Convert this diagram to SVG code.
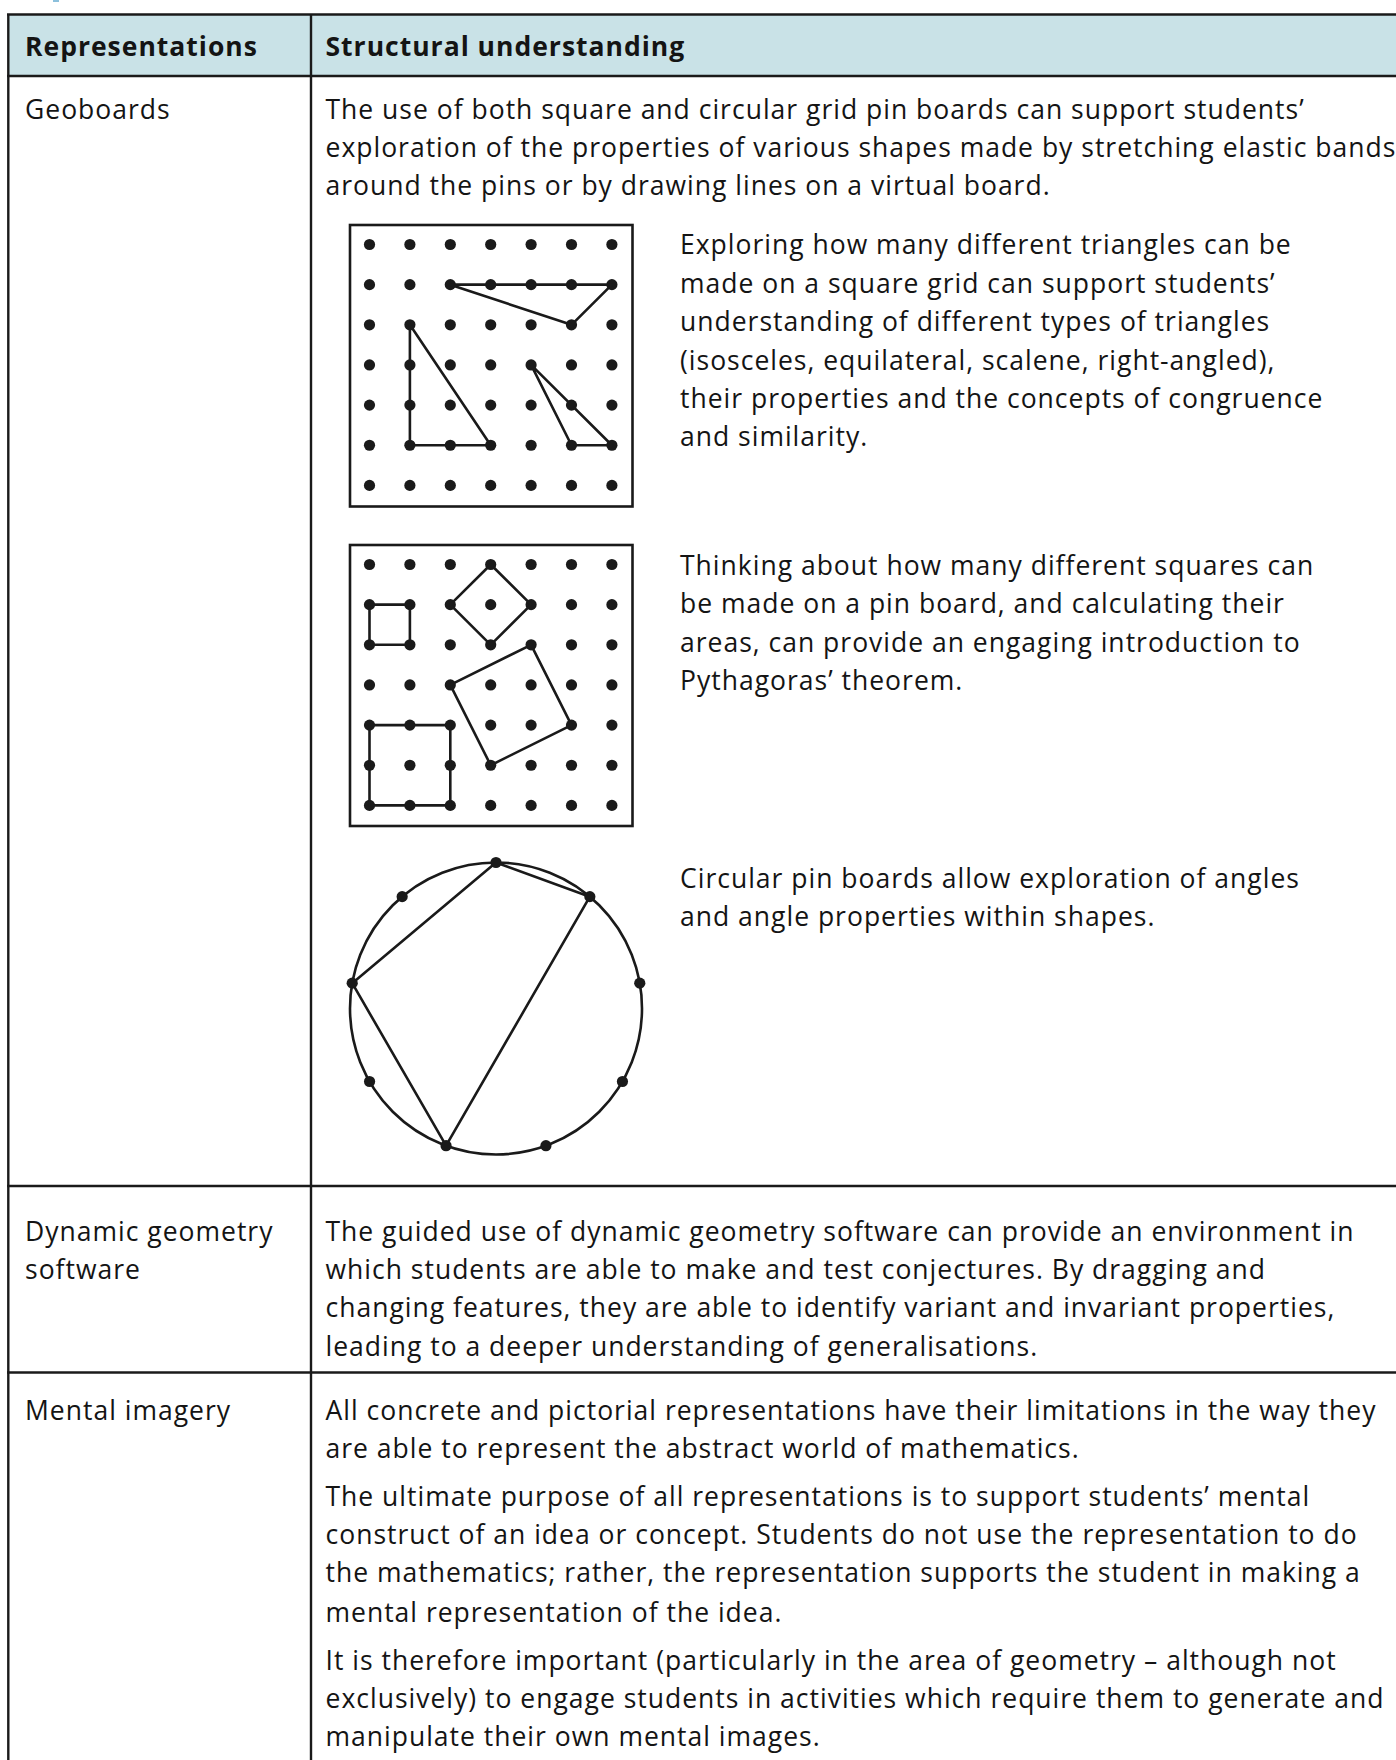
<svg xmlns="http://www.w3.org/2000/svg" width="1396" height="1760" viewBox="0 0 1396 1760">
<style>
  text { font-family: "Open Sans", "Liberation Sans", sans-serif; font-size: 26.5px; font-weight: 500; letter-spacing: 1px; fill: #141414; }
  .hd { font-weight: 700; }
  .rule { stroke: #1a1a1a; stroke-width: 2.4; fill: none; }
  .box { stroke: #1a1a1a; stroke-width: 2.6; fill: none; }
  .band { stroke: #1a1a1a; stroke-width: 2.6; fill: none; stroke-linejoin: round; }
  .pin { fill: #1a1a1a; }
</style>
<defs>
  <g id="pinrow">
    <circle class="pin" cx="369.5" cy="0" r="5.6"/>
    <circle class="pin" cx="409.9" cy="0" r="5.6"/>
    <circle class="pin" cx="450.3" cy="0" r="5.6"/>
    <circle class="pin" cx="490.7" cy="0" r="5.6"/>
    <circle class="pin" cx="531.1" cy="0" r="5.6"/>
    <circle class="pin" cx="571.5" cy="0" r="5.6"/>
    <circle class="pin" cx="611.9" cy="0" r="5.6"/>
  </g>
</defs>
<rect x="0" y="0" width="1396" height="1760" fill="#ffffff"/>
<rect x="53" y="0" width="6" height="2" fill="#8cc0dc"/>

<g id="table">
  <rect x="9" y="14.5" width="1387" height="61.5" fill="#c9e2e7"/>
  <line class="rule" x1="7" y1="14.5" x2="1396" y2="14.5"/>
  <line class="rule" x1="7" y1="76" x2="1396" y2="76"/>
  <line class="rule" x1="8.3" y1="14.5" x2="8.3" y2="1760"/>
  <line class="rule" x1="311" y1="14.5" x2="311" y2="1760"/>
  <line class="rule" x1="7" y1="1186" x2="1396" y2="1186"/>
  <line class="rule" x1="7" y1="1372.5" x2="1396" y2="1372.5"/>
</g>

<g id="header">
  <text class="hd" x="25" y="56">Representations</text>
  <text class="hd" x="325.5" y="56">Structural understanding</text>
</g>

<g id="row-geoboards">
  <text x="25" y="119">Geoboards</text>
  <text x="325.5" y="119">The use of both square and circular grid pin boards can support students’</text>
  <text x="325.5" y="157">exploration of the properties of various shapes made by stretching elastic bands</text>
  <text x="325.5" y="195">around the pins or by drawing lines on a virtual board.</text>

  <g id="triangle-board">
    <rect class="box" x="350" y="225" width="282.5" height="281.5"/>
    <use href="#pinrow" y="244.5"/>
    <use href="#pinrow" y="284.65"/>
    <use href="#pinrow" y="324.8"/>
    <use href="#pinrow" y="364.95"/>
    <use href="#pinrow" y="405.1"/>
    <use href="#pinrow" y="445.25"/>
    <use href="#pinrow" y="485.4"/>
    <path class="band" d="M450.3,284.65 L611.9,284.65 L571.5,324.8 Z"/>
    <path class="band" d="M409.9,324.8 L409.9,445.25 L490.7,445.25 Z"/>
    <path class="band" d="M531.1,364.95 L571.5,445.25 L611.9,445.25 Z"/>
  </g>
  <text x="680" y="254">Exploring how many different triangles can be</text>
  <text x="680" y="292.5">made on a square grid can support students’</text>
  <text x="680" y="330.7">understanding of different types of triangles</text>
  <text x="680" y="369.7">(isosceles, equilateral, scalene, right-angled),</text>
  <text x="680" y="408">their properties and the concepts of congruence</text>
  <text x="680" y="446.2">and similarity.</text>

  <g id="square-board">
    <rect class="box" x="350" y="545" width="282.5" height="281"/>
    <use href="#pinrow" y="564.5"/>
    <use href="#pinrow" y="604.65"/>
    <use href="#pinrow" y="644.8"/>
    <use href="#pinrow" y="684.95"/>
    <use href="#pinrow" y="725.1"/>
    <use href="#pinrow" y="765.25"/>
    <use href="#pinrow" y="805.4"/>
    <path class="band" d="M369.5,604.65 L409.9,604.65 L409.9,644.8 L369.5,644.8 Z"/>
    <path class="band" d="M490.7,564.5 L531.1,604.65 L490.7,644.8 L450.3,604.65 Z"/>
    <path class="band" d="M531.1,644.8 L571.5,725.1 L490.7,765.25 L450.3,684.95 Z"/>
    <path class="band" d="M369.5,725.1 L450.3,725.1 L450.3,805.4 L369.5,805.4 Z"/>
  </g>
  <text x="680" y="574.5">Thinking about how many different squares can</text>
  <text x="680" y="612.6">be made on a pin board, and calculating their</text>
  <text x="680" y="652">areas, can provide an engaging introduction to</text>
  <text x="680" y="690">Pythagoras’ theorem.</text>

  <g id="circular-board">
    <circle class="band" cx="496" cy="1008.5" r="146"/>
    <path class="band" d="M496,862.5 L589.85,896.66 L446.07,1145.7 L352.22,983.15 Z"/>
    <circle class="pin" cx="496" cy="862.5" r="5.6"/>
    <circle class="pin" cx="589.85" cy="896.66" r="5.6"/>
    <circle class="pin" cx="639.78" cy="983.15" r="5.6"/>
    <circle class="pin" cx="622.44" cy="1081.5" r="5.6"/>
    <circle class="pin" cx="545.93" cy="1145.7" r="5.6"/>
    <circle class="pin" cx="446.07" cy="1145.7" r="5.6"/>
    <circle class="pin" cx="369.56" cy="1081.5" r="5.6"/>
    <circle class="pin" cx="352.22" cy="983.15" r="5.6"/>
    <circle class="pin" cx="402.15" cy="896.66" r="5.6"/>
  </g>
  <text x="680" y="887.6">Circular pin boards allow exploration of angles</text>
  <text x="680" y="925.7">and angle properties within shapes.</text>
</g>

<g id="row-dynamic">
  <text x="25" y="1241">Dynamic geometry</text>
  <text x="25" y="1279">software</text>
  <text x="325.5" y="1241">The guided use of dynamic geometry software can provide an environment in</text>
  <text x="325.5" y="1279">which students are able to make and test conjectures. By dragging and</text>
  <text x="325.5" y="1317.4">changing features, they are able to identify variant and invariant properties,</text>
  <text x="325.5" y="1356">leading to a deeper understanding of generalisations.</text>
</g>

<g id="row-mental">
  <text x="25" y="1419.5">Mental imagery</text>
  <text x="325.5" y="1419.5">All concrete and pictorial representations have their limitations in the way they</text>
  <text x="325.5" y="1457.6">are able to represent the abstract world of mathematics.</text>
  <text x="325.5" y="1506">The ultimate purpose of all representations is to support students’ mental</text>
  <text x="325.5" y="1544">construct of an idea or concept. Students do not use the representation to do</text>
  <text x="325.5" y="1582">the mathematics; rather, the representation supports the student in making a</text>
  <text x="325.5" y="1621.5">mental representation of the idea.</text>
  <text x="325.5" y="1670">It is therefore important (particularly in the area of geometry – although not</text>
  <text x="325.5" y="1708">exclusively) to engage students in activities which require them to generate and</text>
  <text x="325.5" y="1746">manipulate their own mental images.</text>
</g>
</svg>
